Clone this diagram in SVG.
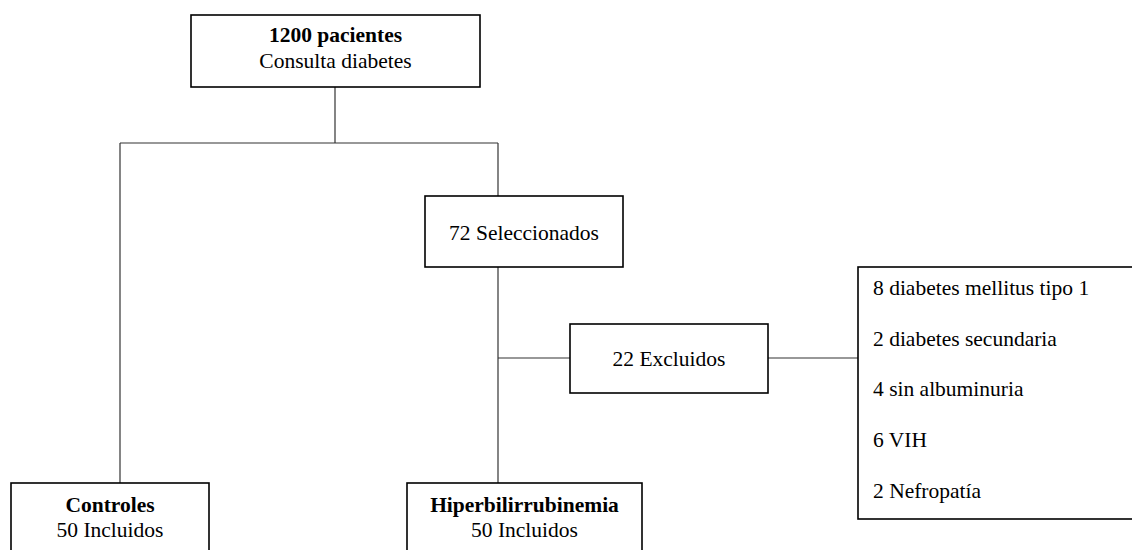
<svg xmlns="http://www.w3.org/2000/svg" width="1132" height="550" viewBox="0 0 1132 550">
<style>
.box{fill:#fff;stroke:#000;stroke-width:1.6}
.ln{fill:none;stroke:#333;stroke-width:1.2}
text{font-family:"Liberation Serif","Times New Roman",serif;font-size:21.5px;fill:#000}
.c{text-anchor:middle}
.b{font-weight:bold}
</style>
<rect width="1132" height="550" fill="#fff"/>
<g id="connectors">
<path class="ln" d="M335 87V143"/>
<path class="ln" d="M120 143H498"/>
<path class="ln" d="M120 143V483"/>
<path class="ln" d="M498 143V196"/>
<path class="ln" d="M498 267V483"/>
<path class="ln" d="M498 358H570"/>
<path class="ln" d="M768 358H858"/>
</g>
<g id="n-pacientes">
<rect class="box" x="191" y="15" width="289" height="72"/>
<text class="c b" x="335.5" y="42">1200 pacientes</text>
<text class="c" x="335.5" y="68">Consulta diabetes</text>
</g>
<g id="n-seleccionados">
<rect class="box" x="425" y="196" width="198" height="71"/>
<text class="c" x="524" y="240">72 Seleccionados</text>
</g>
<g id="n-excluidos">
<rect class="box" x="570" y="324" width="198" height="69"/>
<text class="c" x="669" y="366">22 Excluidos</text>
</g>
<g id="n-motivos">
<rect class="box" x="858" y="267" width="290" height="252"/>
<text x="873" y="295">8 diabetes mellitus tipo 1</text>
<text x="873" y="346">2 diabetes secundaria</text>
<text x="873" y="396">4 sin albuminuria</text>
<text x="873" y="447">6 VIH</text>
<text x="873" y="498">2 Nefropatía</text>
</g>
<g id="n-controles">
<rect class="box" x="11" y="483" width="198" height="80"/>
<text class="c b" x="110" y="512">Controles</text>
<text class="c" x="110" y="537">50 Incluidos</text>
</g>
<g id="n-hiper">
<rect class="box" x="407" y="483" width="235" height="80"/>
<text class="c b" x="524.5" y="512">Hiperbilirrubinemia</text>
<text class="c" x="524.5" y="537">50 Incluidos</text>
</g>
</svg>
